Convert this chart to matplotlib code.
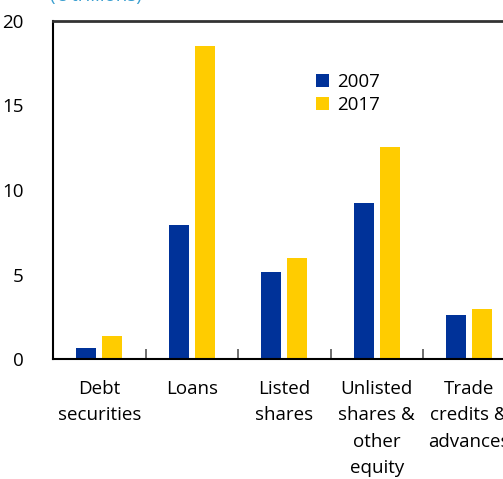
import matplotlib
matplotlib.use("Agg")
import matplotlib.pyplot as plt
import numpy as np

plt.rcParams['font.family'] = ['Open Sans', 'DejaVu Sans']

categories = ["Debt\nsecurities", "Loans", "Listed\nshares", "Unlisted\nshares &\nother\nequity", "Trade\ncredits &\nadvances"]
values_2007 = [0.65, 7.95, 5.15, 9.25, 2.6]
values_2017 = [1.38, 18.5, 5.95, 12.55, 2.98]
series_names = ["2007", "2017"]
yticks = [0, 5, 10, 15, 20]

blue = '#003299'
yellow = '#FFCC00'

fig = plt.figure(figsize=(5.03, 4.79), dpi=100)
ax = fig.add_axes([53/503, 120/479, 555/503, (359-21)/479])

x = np.arange(len(categories))
w = 0.215
ax.bar(x - 0.14, values_2007, width=w, color=blue, label=series_names[0])
ax.bar(x + 0.14, values_2017, width=w, color=yellow, label=series_names[1])

ax.set_xlim(-0.5, 5.5)
ax.set_ylim(0, 20)
ax.set_yticks(yticks)
ax.tick_params(axis='y', length=0, pad=21, labelsize=13.5)
ax.set_xticks(x)
ax.set_xticklabels(categories, fontsize=13.5, linespacing=1.6, va='top')
ax.tick_params(axis='x', which='major', length=0, pad=15)
ax.set_xticks(np.arange(len(categories)) + 0.5, minor=True)
ax.tick_params(axis='x', which='minor', direction='in', length=7, width=1.2, color='#555555')

for s in ['left', 'bottom']:
    ax.spines[s].set_color('black')
    ax.spines[s].set_linewidth(1.5)
ax.spines['top'].set_color('#333333')
ax.spines['top'].set_linewidth(2)
ax.spines['right'].set_visible(False)

ax.legend(loc='upper left', bbox_to_anchor=((316-53)/555, (359-73)/338), frameon=False,
          fontsize=13.5, handlelength=0.7, handleheight=0.7, handletextpad=0.45,
          labelspacing=0.25, borderaxespad=0, borderpad=0)

fig.text(50/503, 1 - 5/479, "(€ trillions)", color='#3A9FD0', fontsize=13.5, ha='left', va='bottom')

fig.savefig('out.png', dpi=100)
